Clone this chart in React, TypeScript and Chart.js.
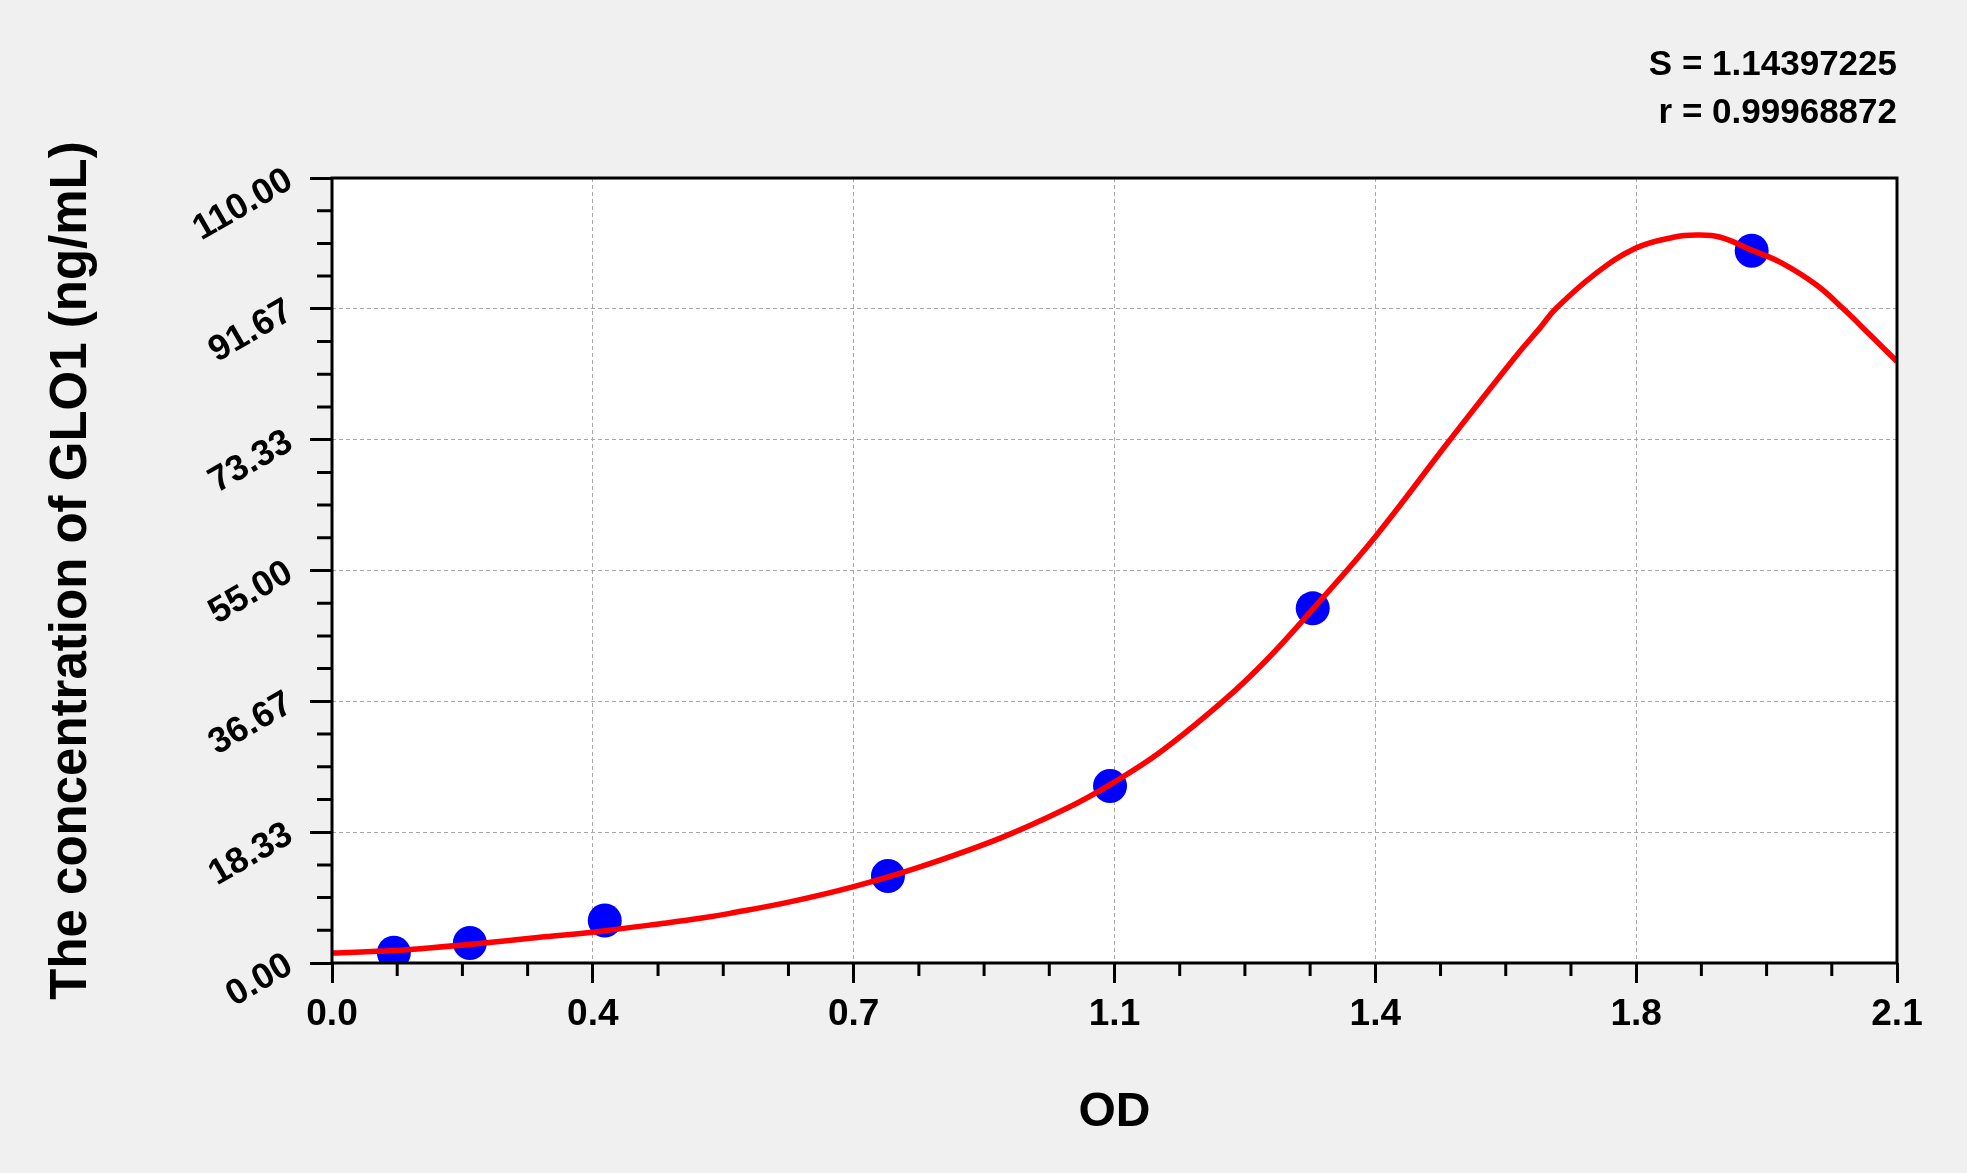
import { useEffect, useRef } from 'react'
import { Chart, registerables } from 'chart.js'

Chart.register(...registerables)

// standards (OD vs concentration)
const odValues = [0.083, 0.185, 0.366, 0.746, 1.044, 1.316, 1.905]
const concValues = [1.45, 2.8, 5.95, 12.2, 24.8, 49.7, 99.8]

// fitted curve, sampled along the red line
const curveOd = [
  0, 0.085, 0.13, 0.19, 0.266, 0.355, 0.445, 0.494, 0.534, 0.616, 0.7, 0.787,
  0.896, 0.986, 1.044, 1.112, 1.198, 1.254, 1.317, 1.4, 1.5, 1.59, 1.621, 1.642,
  1.693, 1.749, 1.8, 1.831, 1.863, 1.905, 1.945, 1.992, 2.028, 2.064, 2.1,
]
const curveConc = [
  1.4, 1.75, 2.1, 2.65, 3.46, 4.39, 5.56, 6.26, 6.96, 8.6, 10.7, 13.4,
  17.47, 21.68, 25.0, 29.6, 36.9, 42.46, 49.7, 59.74, 73.29, 85.2, 89.0, 91.67,
  96.4, 100.15, 101.7, 102.0, 101.7, 99.9, 98.1, 95.0, 91.67, 88.0, 84.3,
]

const xTickValues = [0, 0.35, 0.7, 1.05, 1.4, 1.75, 2.1]
const xTickLabels = ['0.0', '0.4', '0.7', '1.1', '1.4', '1.8', '2.1']
const yTickValues = [0, 18.33, 36.67, 55, 73.33, 91.67, 110]
const yTickLabels = ['0.00', '18.33', '36.67', '55.00', '73.33', '91.67', '110.00']

const statLines = ['S = 1.14397225', 'r = 0.99968872']

const FONT = '"Liberation Sans", Arial, sans-serif'
const MINOR_PER_MAJOR = 4

// white plot area, black box and the minor ticks
const framePlugin = {
  id: 'frame',
  beforeDraw(chart) {
    const { ctx, chartArea: a, width, height } = chart
    ctx.save()
    ctx.fillStyle = '#f0f0f0'
    ctx.fillRect(0, 0, width, height)
    ctx.fillStyle = '#ffffff'
    ctx.fillRect(a.left, a.top, a.right - a.left, a.bottom - a.top)
    ctx.restore()
  },
  afterDraw(chart) {
    const { ctx, chartArea: a, scales } = chart
    ctx.save()
    ctx.strokeStyle = '#000000'
    ctx.lineWidth = 3
    ctx.strokeRect(a.left, a.top, a.right - a.left, a.bottom - a.top)

    ctx.beginPath()
    for (let i = 0; i < xTickValues.length - 1; i++) {
      const step = (xTickValues[i + 1] - xTickValues[i]) / MINOR_PER_MAJOR
      for (let k = 1; k < MINOR_PER_MAJOR; k++) {
        const px = scales.x.getPixelForValue(xTickValues[i] + k * step)
        ctx.moveTo(px, a.bottom)
        ctx.lineTo(px, a.bottom + 13)
      }
    }
    for (let i = 0; i < yTickValues.length - 1; i++) {
      const step = (yTickValues[i + 1] - yTickValues[i]) / MINOR_PER_MAJOR
      for (let k = 1; k < MINOR_PER_MAJOR; k++) {
        const py = scales.y.getPixelForValue(yTickValues[i] + k * step)
        ctx.moveTo(a.left - 15, py)
        ctx.lineTo(a.left, py)
      }
    }
    ctx.stroke()
    ctx.restore()
  },
}

const StandardCurve = () => {
  const chartRef = useRef<HTMLCanvasElement | null>(null)

  useEffect(() => {
    document.body.style.background = '#f0f0f0'
    const ctx = chartRef.current?.getContext('2d')
    if (!ctx) return

    const chart = new Chart(ctx, {
      type: 'scatter',
      data: {
        datasets: [
          {
            label: 'Fit',
            data: curveOd.map((x, i) => ({ x, y: curveConc[i] })),
            showLine: true,
            borderColor: '#ff0000',
            borderWidth: 5.5,
            pointRadius: 0,
            tension: 0.4,
            order: 0,
          },
          {
            label: 'Standards',
            data: odValues.map((x, i) => ({ x, y: concValues[i] })),
            backgroundColor: '#0000ff',
            pointBackgroundColor: '#0000ff',
            pointBorderWidth: 0,
            pointRadius: 17,
            pointHoverRadius: 17,
            order: 1,
          },
        ],
      },
      options: {
        animation: false,
        responsive: true,
        maintainAspectRatio: false,
        layout: { padding: { left: 0, right: 62, top: 0, bottom: 0 } },
        plugins: {
          legend: { display: false },
          tooltip: { enabled: false },
          title: {
            display: true,
            text: statLines,
            align: 'end',
            color: '#000000',
            font: { family: FONT, size: 35, weight: 'bold', lineHeight: 1.386 },
            padding: { top: 33, bottom: 40 },
          },
        },
        scales: {
          x: {
            type: 'linear',
            min: 0,
            max: 2.1,
            afterBuildTicks: (axis) => {
              axis.ticks = xTickValues.map((value) => ({ value }))
            },
            afterFit: (axis) => {
              axis.height = 202
            },
            ticks: {
              callback: (_value, index) => xTickLabels[index],
              color: '#000000',
              font: { family: FONT, size: 37, weight: 'bold' },
              padding: 10,
              maxRotation: 0,
              autoSkip: false,
            },
            grid: {
              color: '#a8a8a8',
              lineWidth: 1,
              tickLength: 20,
              tickColor: '#000000',
              tickWidth: 3,
              tickBorderDash: [],
            },
            border: { display: false, dash: [4, 3] },
            title: {
              display: true,
              text: 'OD',
              color: '#000000',
              font: { family: FONT, size: 48, weight: 'bold' },
              padding: { top: 0, bottom: 23 },
            },
          },
          y: {
            type: 'linear',
            min: 0,
            max: 110,
            afterBuildTicks: (axis) => {
              axis.ticks = yTickValues.map((value) => ({ value }))
            },
            afterFit: (axis) => {
              axis.width = 324
            },
            ticks: {
              callback: (_value, index) => yTickLabels[index],
              color: '#000000',
              font: { family: FONT, size: 36, weight: 'bold' },
              padding: 20,
              minRotation: 30,
              maxRotation: 30,
              autoSkip: false,
            },
            grid: {
              color: '#a8a8a8',
              lineWidth: 1,
              tickLength: 22,
              tickColor: '#000000',
              tickWidth: 3,
              tickBorderDash: [],
            },
            border: { display: false, dash: [4, 3] },
            title: {
              display: true,
              text: 'The concentration of GLO1 (ng/mL)',
              color: '#000000',
              font: { family: FONT, size: 51, weight: 'bold' },
              padding: { top: 33, bottom: 0 },
            },
          },
        },
      },
      plugins: [framePlugin],
    })

    return () => {
      chart.destroy()
    }
  }, [])

  return (
    <div style={{ position: 'relative', width: 1951, height: 1157 }}>
      <canvas ref={chartRef} />
    </div>
  )
}

export default function App() {
  return <StandardCurve />
}
